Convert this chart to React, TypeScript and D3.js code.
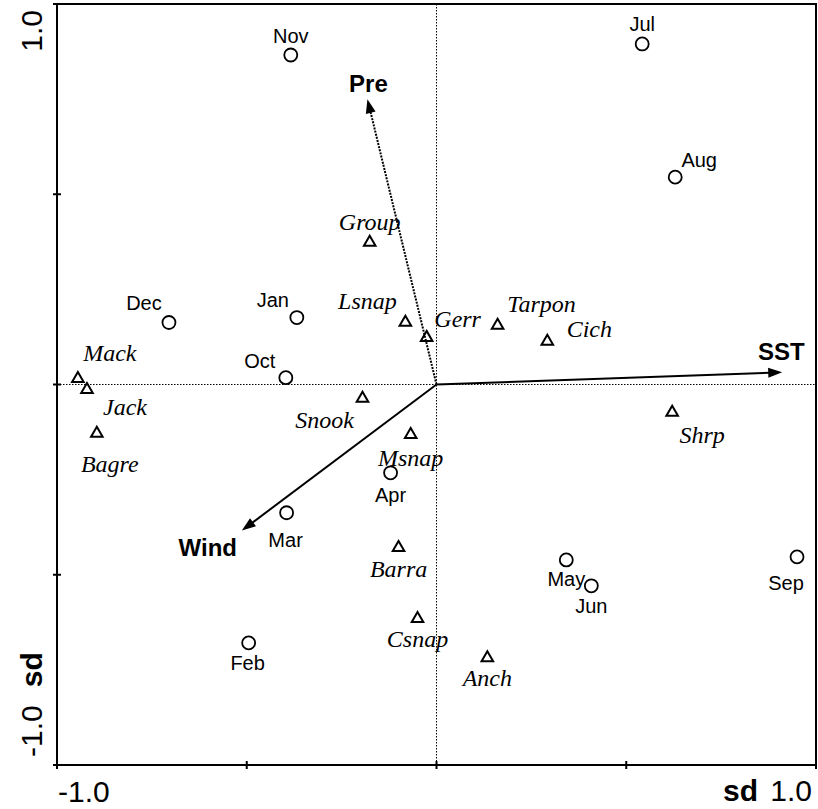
import React from "react";
import * as d3 from "d3";

// Sample scores (months)
const months = ["Nov", "Jul", "Aug", "Dec", "Jan", "Oct", "Apr", "Mar", "Feb", "May", "Jun", "Sep"];
const monthX = [-0.384, 0.542, 0.629, -0.705, -0.368, -0.397, -0.121, -0.395, -0.495, 0.342, 0.408, 0.95];
const monthY = [0.866, 0.895, 0.545, 0.163, 0.176, 0.018, -0.232, -0.337, -0.679, -0.461, -0.529, -0.453];

// Species scores
const species = ["Group", "Lsnap", "Gerr", "Tarpon", "Cich", "Mack", "Jack", "Bagre", "Snook", "Msnap", "Shrp", "Barra", "Csnap", "Anch"];
const speciesX = [-0.176, -0.082, -0.026, 0.161, 0.292, -0.945, -0.921, -0.895, -0.195, -0.068, 0.621, -0.1, -0.05, 0.134];
const speciesY = [0.376, 0.166, 0.126, 0.158, 0.116, 0.018, -0.011, -0.126, -0.034, -0.129, -0.071, -0.426, -0.613, -0.716];

// Environmental variables (arrows)
const envVars = ["SST", "Pre", "Wind"];
const envX = [0.911, -0.182, -0.513];
const envY = [0.032, 0.75, -0.384];

const ticks = [-1, -0.5, 0, 0.5, 1];

// label placement offsets (px)
const monthLabelOffset: Record<string, [number, number]> = {
  Nov: [0, -19], Jul: [0, -20], Aug: [24, -17], Dec: [-25, -19], Jan: [-24, -18], Oct: [-26, -17],
  Apr: [0, 22], Mar: [-1, 27], Feb: [-1, 20], May: [0, 19], Jun: [0, 20], Sep: [-11, 26],
};
const speciesLabelOffset: Record<string, [number, number]> = {
  Group: [0, -20], Lsnap: [-38, -21], Gerr: [31, -18], Tarpon: [44, -21], Cich: [42, -12],
  Mack: [32, -25], Jack: [38, 18], Bagre: [13, 31], Snook: [-38, 22], Msnap: [0, 24],
  Shrp: [30, 23], Barra: [0, 22], Csnap: [0, 21], Anch: [0, 21],
};
const envLabelOffset: Record<string, [number, number]> = {
  SST: [-1, -21], Pre: [1, -16], Wind: [-34, 17],
};

const W = 818;
const H = 809;
const L = 57, R = 816, T = 4, B = 765;

export default function App() {
  const x = d3.scaleLinear().domain([-1, 1]).range([L, R]);
  const y = d3.scaleLinear().domain([-1, 1]).range([B, T]);
  const sans = "'Liberation Sans', Arial, sans-serif";
  const serif = "'Liberation Serif', 'Times New Roman', serif";
  const tri = d3.symbol().type(d3.symbolTriangle).size(58)() as string;

  const arrowHead = (x0: number, y0: number, x1: number, y1: number) => {
    const ang = Math.atan2(y1 - y0, x1 - x0);
    const len = 14, half = 5;
    const bx = x1 - len * Math.cos(ang), by = y1 - len * Math.sin(ang);
    const px = -Math.sin(ang) * half, py = Math.cos(ang) * half;
    return `M${x1},${y1}L${bx + px},${by + py}L${bx - px},${by - py}Z`;
  };

  return (
    <svg width={W} height={H} style={{ position: "absolute", left: 0, top: 0, background: "#fff" }}>
      <rect x={0} y={0} width={W} height={H} fill="#fff" />
      {/* dotted zero lines */}
      <line x1={L} x2={R} y1={y(0)} y2={y(0)} stroke="#000" strokeWidth={1} strokeDasharray="1.5,1.5" />
      <line x1={x(0)} x2={x(0)} y1={T} y2={B} stroke="#000" strokeWidth={1} strokeDasharray="1.5,1.5" />
      {/* frame */}
      <rect x={L} y={T} width={R - L} height={B - T} fill="none" stroke="#000" strokeWidth={2} />
      {/* ticks */}
      {ticks.map((t) => (
        <line key={"yt" + t} x1={L - 4} x2={L + 4} y1={y(t)} y2={y(t)} stroke="#000" strokeWidth={2} />
      ))}
      {ticks.map((t) => (
        <line key={"xt" + t} x1={x(t)} x2={x(t)} y1={B - 4} y2={B + 4} stroke="#000" strokeWidth={2} />
      ))}
      {/* axis labels */}
      <text transform={`translate(42,10) rotate(-90)`} textAnchor="end" fontFamily={sans} fontSize={30}>1.0</text>
      <text transform={`translate(42,757) rotate(-90)`} textAnchor="start" fontFamily={sans} fontSize={30}>
        <tspan>-1.0</tspan>
        <tspan dx={18} fontWeight="bold">sd</tspan>
      </text>
      <text x={58} y={802} fontFamily={sans} fontSize={30}>-1.0</text>
      <text x={723} y={801} fontFamily={sans} fontSize={30} fontWeight="bold">sd</text>
      <text x={812} y={801} textAnchor="end" fontFamily={sans} fontSize={30}>1.0</text>

      {/* env arrows */}
      {envVars.map((v, i) => {
        const x0 = x(0), y0 = y(0), x1 = x(envX[i]), y1 = y(envY[i]);
        const dotted = v === "Pre";
        const ang = Math.atan2(y1 - y0, x1 - x0);
        const ex = x1 - 12 * Math.cos(ang), ey = y1 - 12 * Math.sin(ang);
        const [dx, dy] = envLabelOffset[v];
        return (
          <g key={v}>
            <line x1={x0} y1={y0} x2={ex} y2={ey} stroke="#000" strokeWidth={2}
              strokeDasharray={dotted ? "2,1.2" : undefined} />
            <path d={arrowHead(x0, y0, x1, y1)} fill="#000" />
            <text x={x1 + dx} y={y1 + dy} dy="0.35em" textAnchor="middle" fontFamily={sans}
              fontWeight="bold" fontSize={24}>{v}</text>
          </g>
        );
      })}

      {/* species */}
      {species.map((s, i) => {
        const px = x(speciesX[i]), py = y(speciesY[i]);
        const [dx, dy] = speciesLabelOffset[s];
        return (
          <g key={s}>
            <path d={tri} transform={`translate(${px},${py + 1})`} fill="none" stroke="#000" strokeWidth={2} />
            <text x={px + dx} y={py + dy} dy="0.35em" textAnchor="middle" fontFamily={serif}
              fontStyle="italic" fontSize={24}>{s}</text>
          </g>
        );
      })}

      {/* months */}
      {months.map((m, i) => {
        const px = x(monthX[i]), py = y(monthY[i]);
        const [dx, dy] = monthLabelOffset[m];
        return (
          <g key={m}>
            <circle cx={px} cy={py} r={6.5} fill="none" stroke="#000" strokeWidth={1.8} />
            <text x={px + dx} y={py + dy} dy="0.35em" textAnchor="middle" fontFamily={sans} fontSize={20}>{m}</text>
          </g>
        );
      })}
    </svg>
  );
}
